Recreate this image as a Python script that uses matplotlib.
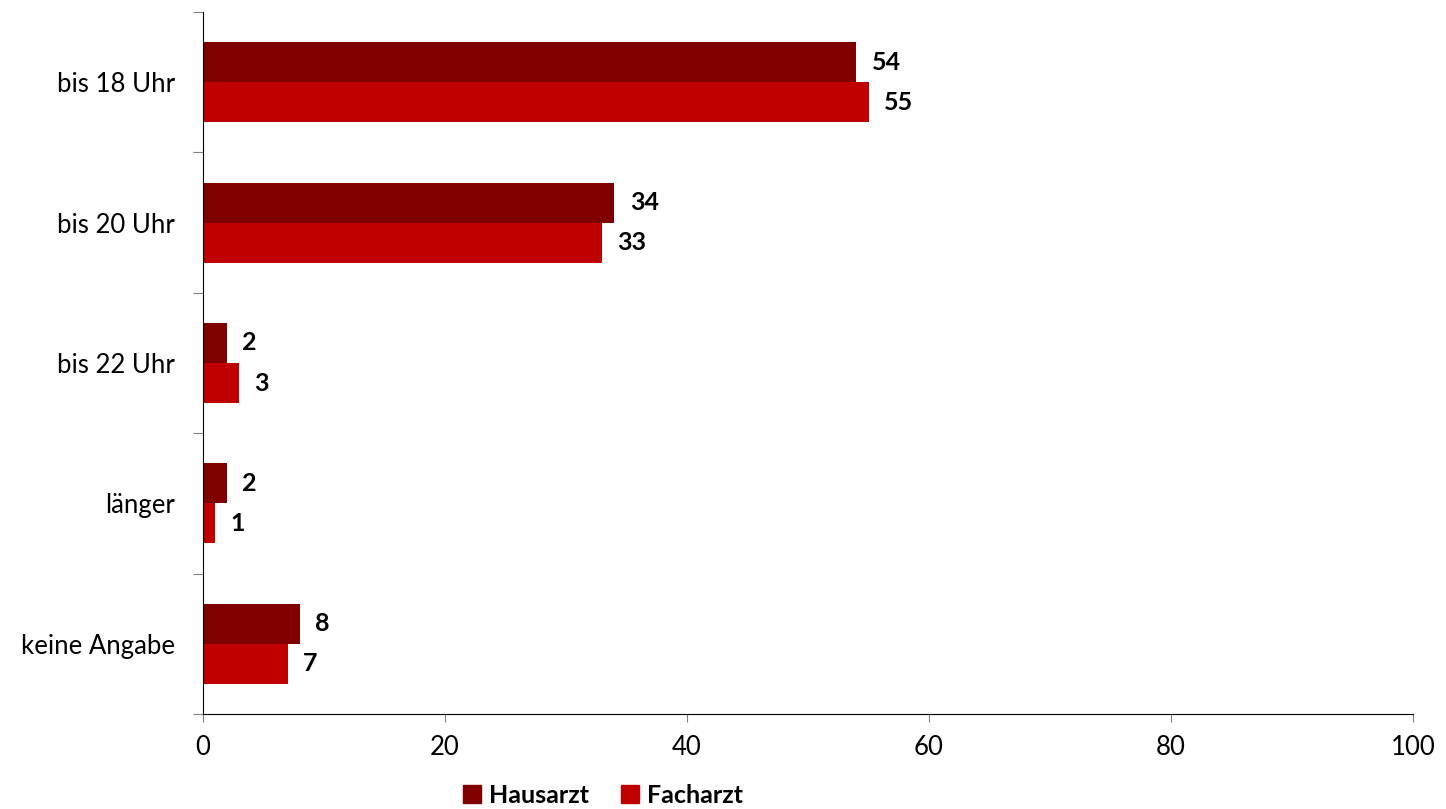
import numpy as np
import matplotlib.pyplot as plt
from matplotlib.patches import Patch

plt.rcParams['font.family'] = ['Lato', 'DejaVu Sans']

categories = ["bis 18 Uhr", "bis 20 Uhr", "bis 22 Uhr", "länger", "keine Angabe"]
hausarzt = [54, 34, 2, 2, 8]
facharzt = [55, 33, 3, 1, 7]
series_names = ["Hausarzt", "Facharzt"]
colors = ["#800000", "#C00000"]

fig = plt.figure(figsize=(14.46, 8.09), dpi=100)
ax = fig.add_axes([203 / 1446, 1 - 714 / 809, 1210 / 1446, 702 / 809])

y = np.arange(len(categories))
h = 0.285
bars1 = ax.barh(y - h / 2, hausarzt, height=h, color=colors[0])
bars2 = ax.barh(y + h / 2, facharzt, height=h, color=colors[1])

for bars, vals in [(bars1, hausarzt), (bars2, facharzt)]:
    for b, v in zip(bars, vals):
        ax.annotate(str(v), (b.get_width(), b.get_y() + b.get_height() / 2),
                    xytext=(11, 0), textcoords="offset points",
                    ha="left", va="center", fontsize=18, fontweight="bold")

ax.set_xlim(0, 100)
ax.set_xticks(np.arange(0, 101, 20))
ax.set_ylim(len(categories) - 0.5, -0.5)

# category labels between boundary ticks
ax.set_yticks(np.arange(-0.5, len(categories), 1.0))
ax.set_yticklabels([])
ax.set_yticks(y, minor=True)
ax.set_yticklabels(categories, minor=True)
ax.tick_params(axis="y", which="minor", length=0, pad=20, labelsize=18.5)
ax.tick_params(axis="y", which="major", length=7, color="#808080")
ax.tick_params(axis="x", length=6, color="#808080", labelsize=18.5, pad=9)

for s in ["top", "right"]:
    ax.spines[s].set_visible(False)
ax.spines["left"].set_color("black")
ax.spines["bottom"].set_color("black")

handles = [Patch(color=c) for c in colors]
fig.legend(handles, series_names, loc="center", bbox_to_anchor=(0.417, 0.017),
           ncol=2, frameon=False, prop={"size": 18, "weight": "bold"},
           handlelength=0.72, handleheight=0.72, handletextpad=0.3, columnspacing=1.3)

fig.savefig("out.png", dpi=100)
